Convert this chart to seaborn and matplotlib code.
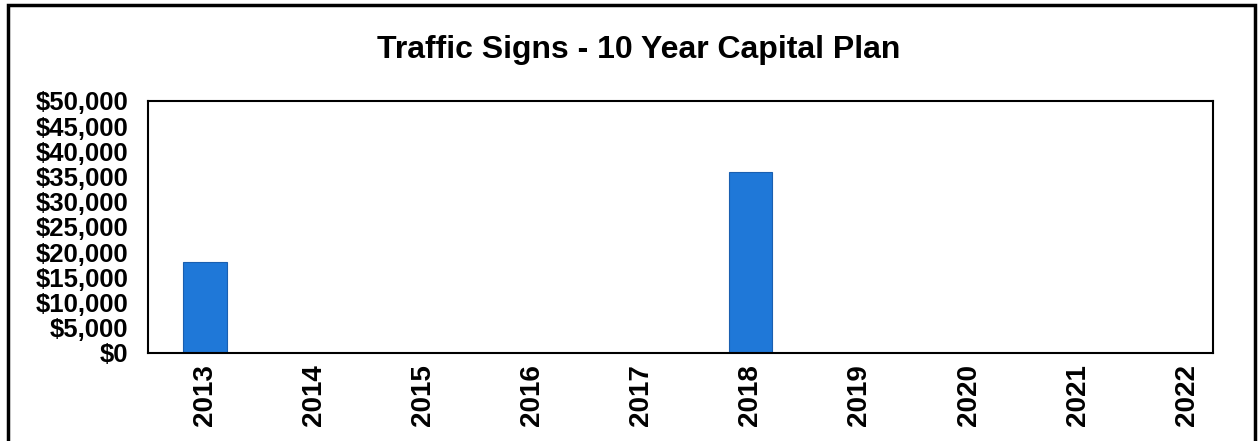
import matplotlib
matplotlib.use("Agg")
import matplotlib.pyplot as plt
import seaborn as sns
import pandas as pd
from matplotlib.patches import Rectangle
from matplotlib.ticker import FuncFormatter

years = ['2013', '2014', '2015', '2016', '2017', '2018', '2019', '2020', '2021', '2022']
costs = [18000, 0, 0, 0, 0, 36000, 0, 0, 0, 0]
yticks = list(range(0, 50001, 5000))

df = pd.DataFrame({'year': years, 'cost': costs})

sns.set_style("white")
plt.rcParams['font.family'] = ['Liberation Sans', 'DejaVu Sans']
plt.rcParams['text.color'] = 'black'
plt.rcParams['xtick.color'] = 'black'
plt.rcParams['ytick.color'] = 'black'

fig = plt.figure(figsize=(12.59, 4.41), dpi=100)
ax = fig.add_axes([148 / 1259, 88 / 441, 1065 / 1259, 252 / 441])

sns.barplot(data=df, x='year', y='cost', color='#1f78d8', width=0.4,
            saturation=1, edgecolor='#1a5fb0', linewidth=0.8, ax=ax)

ax.set_xlim(-0.52, 9.24)
ax.set_ylim(0, 50000)
ax.set_yticks(yticks)
ax.yaxis.set_major_formatter(FuncFormatter(lambda v, p: '${:,.0f}'.format(v)))
ax.set_xlabel('')
ax.set_ylabel('')
ax.tick_params(axis='y', length=0, pad=14, labelsize=18.5)
ax.tick_params(axis='x', length=0, pad=8, labelsize=20, rotation=90)
for lab in ax.get_xticklabels() + ax.get_yticklabels():
    lab.set_fontweight('bold')

for s in ax.spines.values():
    s.set_color('black')
    s.set_linewidth(1.5)

fig.text(639 / 1259, 1 - 50 / 441, 'Traffic Signs - 10 Year Capital Plan',
         ha='center', va='center', fontsize=23, fontweight='bold')

# outer chart frame
fig.patches.append(Rectangle((8 / 1259, -0.05), 1247 / 1259, 1.05 - 5 / 441,
                             transform=fig.transFigure, fill=False,
                             edgecolor='black', linewidth=2.5))

fig.savefig('out.png', dpi=100)
